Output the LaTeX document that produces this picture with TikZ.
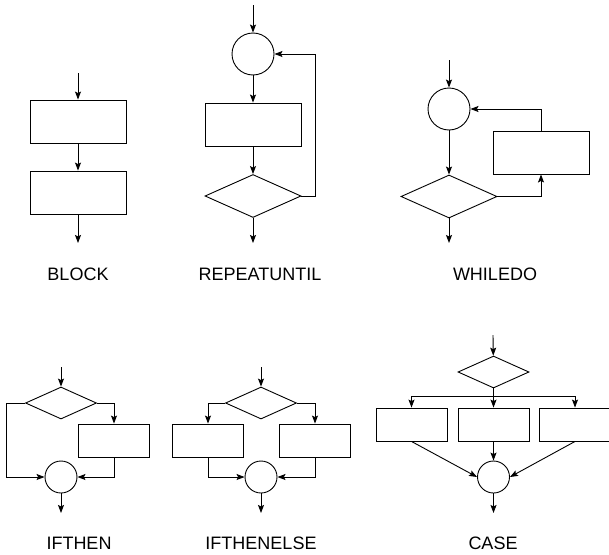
\documentclass[tikz,border=0pt]{standalone}
\usepackage{fontspec}
\setmainfont{Liberation Sans}
\usetikzlibrary{positioning,calc,arrows.meta,shapes.geometric}
\tikzset{
  flow/.style  = {line width=0.9pt, -{Stealth[length=8pt,width=6pt,inset=1.5pt]}},
  wire/.style  = {line width=0.9pt},
  proc/.style  = {draw, line width=0.9pt, rectangle, inner sep=0pt,
                  minimum width=96pt, minimum height=43pt},
  sproc/.style = {proc, minimum width=71pt, minimum height=33pt},
  test/.style  = {draw, line width=0.9pt, diamond, inner sep=0pt,
                  minimum width=96pt, minimum height=43pt},
  stest/.style = {test, minimum width=71pt, minimum height=32pt},
  junc/.style  = {draw, line width=0.9pt, circle, inner sep=0pt, minimum size=42pt},
  sjunc/.style = {junc, minimum size=32pt},
  lbl/.style   = {font=\fontsize{18}{21}\selectfont, anchor=base, inner sep=0pt},
}

\begin{document}
\begin{tikzpicture}[x=1pt,y=-1pt]
  \useasboundingbox (0,0) rectangle (609,554);
  % BLOCK
  \coordinate (bin) at (78,73);
  \node[proc] (b1) at (78,121.5) {};
  \node[proc] (b2) at (78,192.5) {};
  \coordinate (bout) at (78,243);
  \draw[flow] (bin)--(b1);
  \draw[flow] (b1)--(b2);
  \draw[flow] (b2)--(bout);
  \node[lbl] at (78,280) {BLOCK};
  % REPEATUNTIL
  \coordinate (rin) at (253,5);
  \node[junc] (r1) at (253,54) {};
  \node[proc] (r2) at (253,124.5) {};
  \node[test] (r3) at (253,196) {};
  \coordinate (rout) at (253,243);
  \draw[flow] (rin)--(r1);
  \draw[flow] (r1)--(r2);
  \draw[flow] (r2)--(r3);
  \draw[flow] (r3)--(rout);
  \draw[flow] (r3.east)--++(14,0)|-(r1.east);
  \node[lbl] at (260,280) {REPEATUNTIL};
  % WHILEDO
  \coordinate (win) at (449,60);
  \node[junc] (w1) at (449,109) {};
  \node[test] (w2) at (449,196.5) {};
  \node[proc] (w3) at (541,152.5) {};
  \coordinate (wout) at (449,243);
  \draw[flow] (win)--(w1);
  \draw[flow] (w1)--(w2);
  \draw[flow] (w2)--(wout);
  \draw[flow] (w2.east)-|(w3.south);
  \draw[flow] (w3.north)|-(w1.east);
  \node[lbl] at (495,280) {WHILEDO};
  % IFTHEN
  \coordinate (iin) at (61,367);
  \node[stest] (i1) at (61,403) {};
  \node[sproc] (i2) at (114,440.5) {};
  \node[sjunc] (i3) at (61,477) {};
  \coordinate (iout) at (61,513);
  \draw[flow] (iin)--(i1);
  \draw[flow] (i1.west)--++(-19,0)|-(i3.west);
  \draw[flow] (i1.east)-|(i2.north);
  \draw[flow] (i2.south)|-(i3.east);
  \draw[flow] (i3)--(iout);
  \node[lbl] at (79,549) {IFTHEN};
  % IFTHENELSE
  \coordinate (ein) at (261,367);
  \node[stest] (e1) at (261,403) {};
  \node[sproc] (e2) at (208,440.5) {};
  \node[sproc] (e3) at (315,440.5) {};
  \node[sjunc] (e4) at (261,477) {};
  \coordinate (eout) at (261,513);
  \draw[flow] (ein)--(e1);
  \draw[flow] (e1.west)-|(e2.north);
  \draw[flow] (e1.east)-|(e3.north);
  \draw[flow] (e2.south)|-(e4.west);
  \draw[flow] (e3.south)|-(e4.east);
  \draw[flow] (e4)--(eout);
  \node[lbl] at (261,549) {IFTHENELSE};
  % CASE
  \coordinate (cin) at (493,335);
  \node[stest] (c1) at (493.5,372) {};
  \node[sproc] (c2) at (411.5,424.5) {};
  \node[sproc] (c3) at (493.5,424.5) {};
  \node[sproc] (c4) at (575,424.5) {};
  \node[sjunc] (c5) at (493.5,477) {};
  \coordinate (cout) at (493.5,513);
  \coordinate (cj) at (493.5,396);
  \draw[flow] (cin)--(c1);
  \draw[flow] (c1.south)--(c3.north);
  \draw[wire] (c2.north|-cj)--(c4.north|-cj);
  \draw[flow] (c2.north|-cj)--(c2.north);
  \draw[flow] (c4.north|-cj)--(c4.north);
  \draw[flow] (c2.south)--(c5.west);
  \draw[flow] (c3)--(c5);
  \draw[flow] (c4.south)--(c5.east);
  \draw[flow] (c5)--(cout);
  \node[lbl] at (493,549) {CASE};
\end{tikzpicture}
\end{document}
